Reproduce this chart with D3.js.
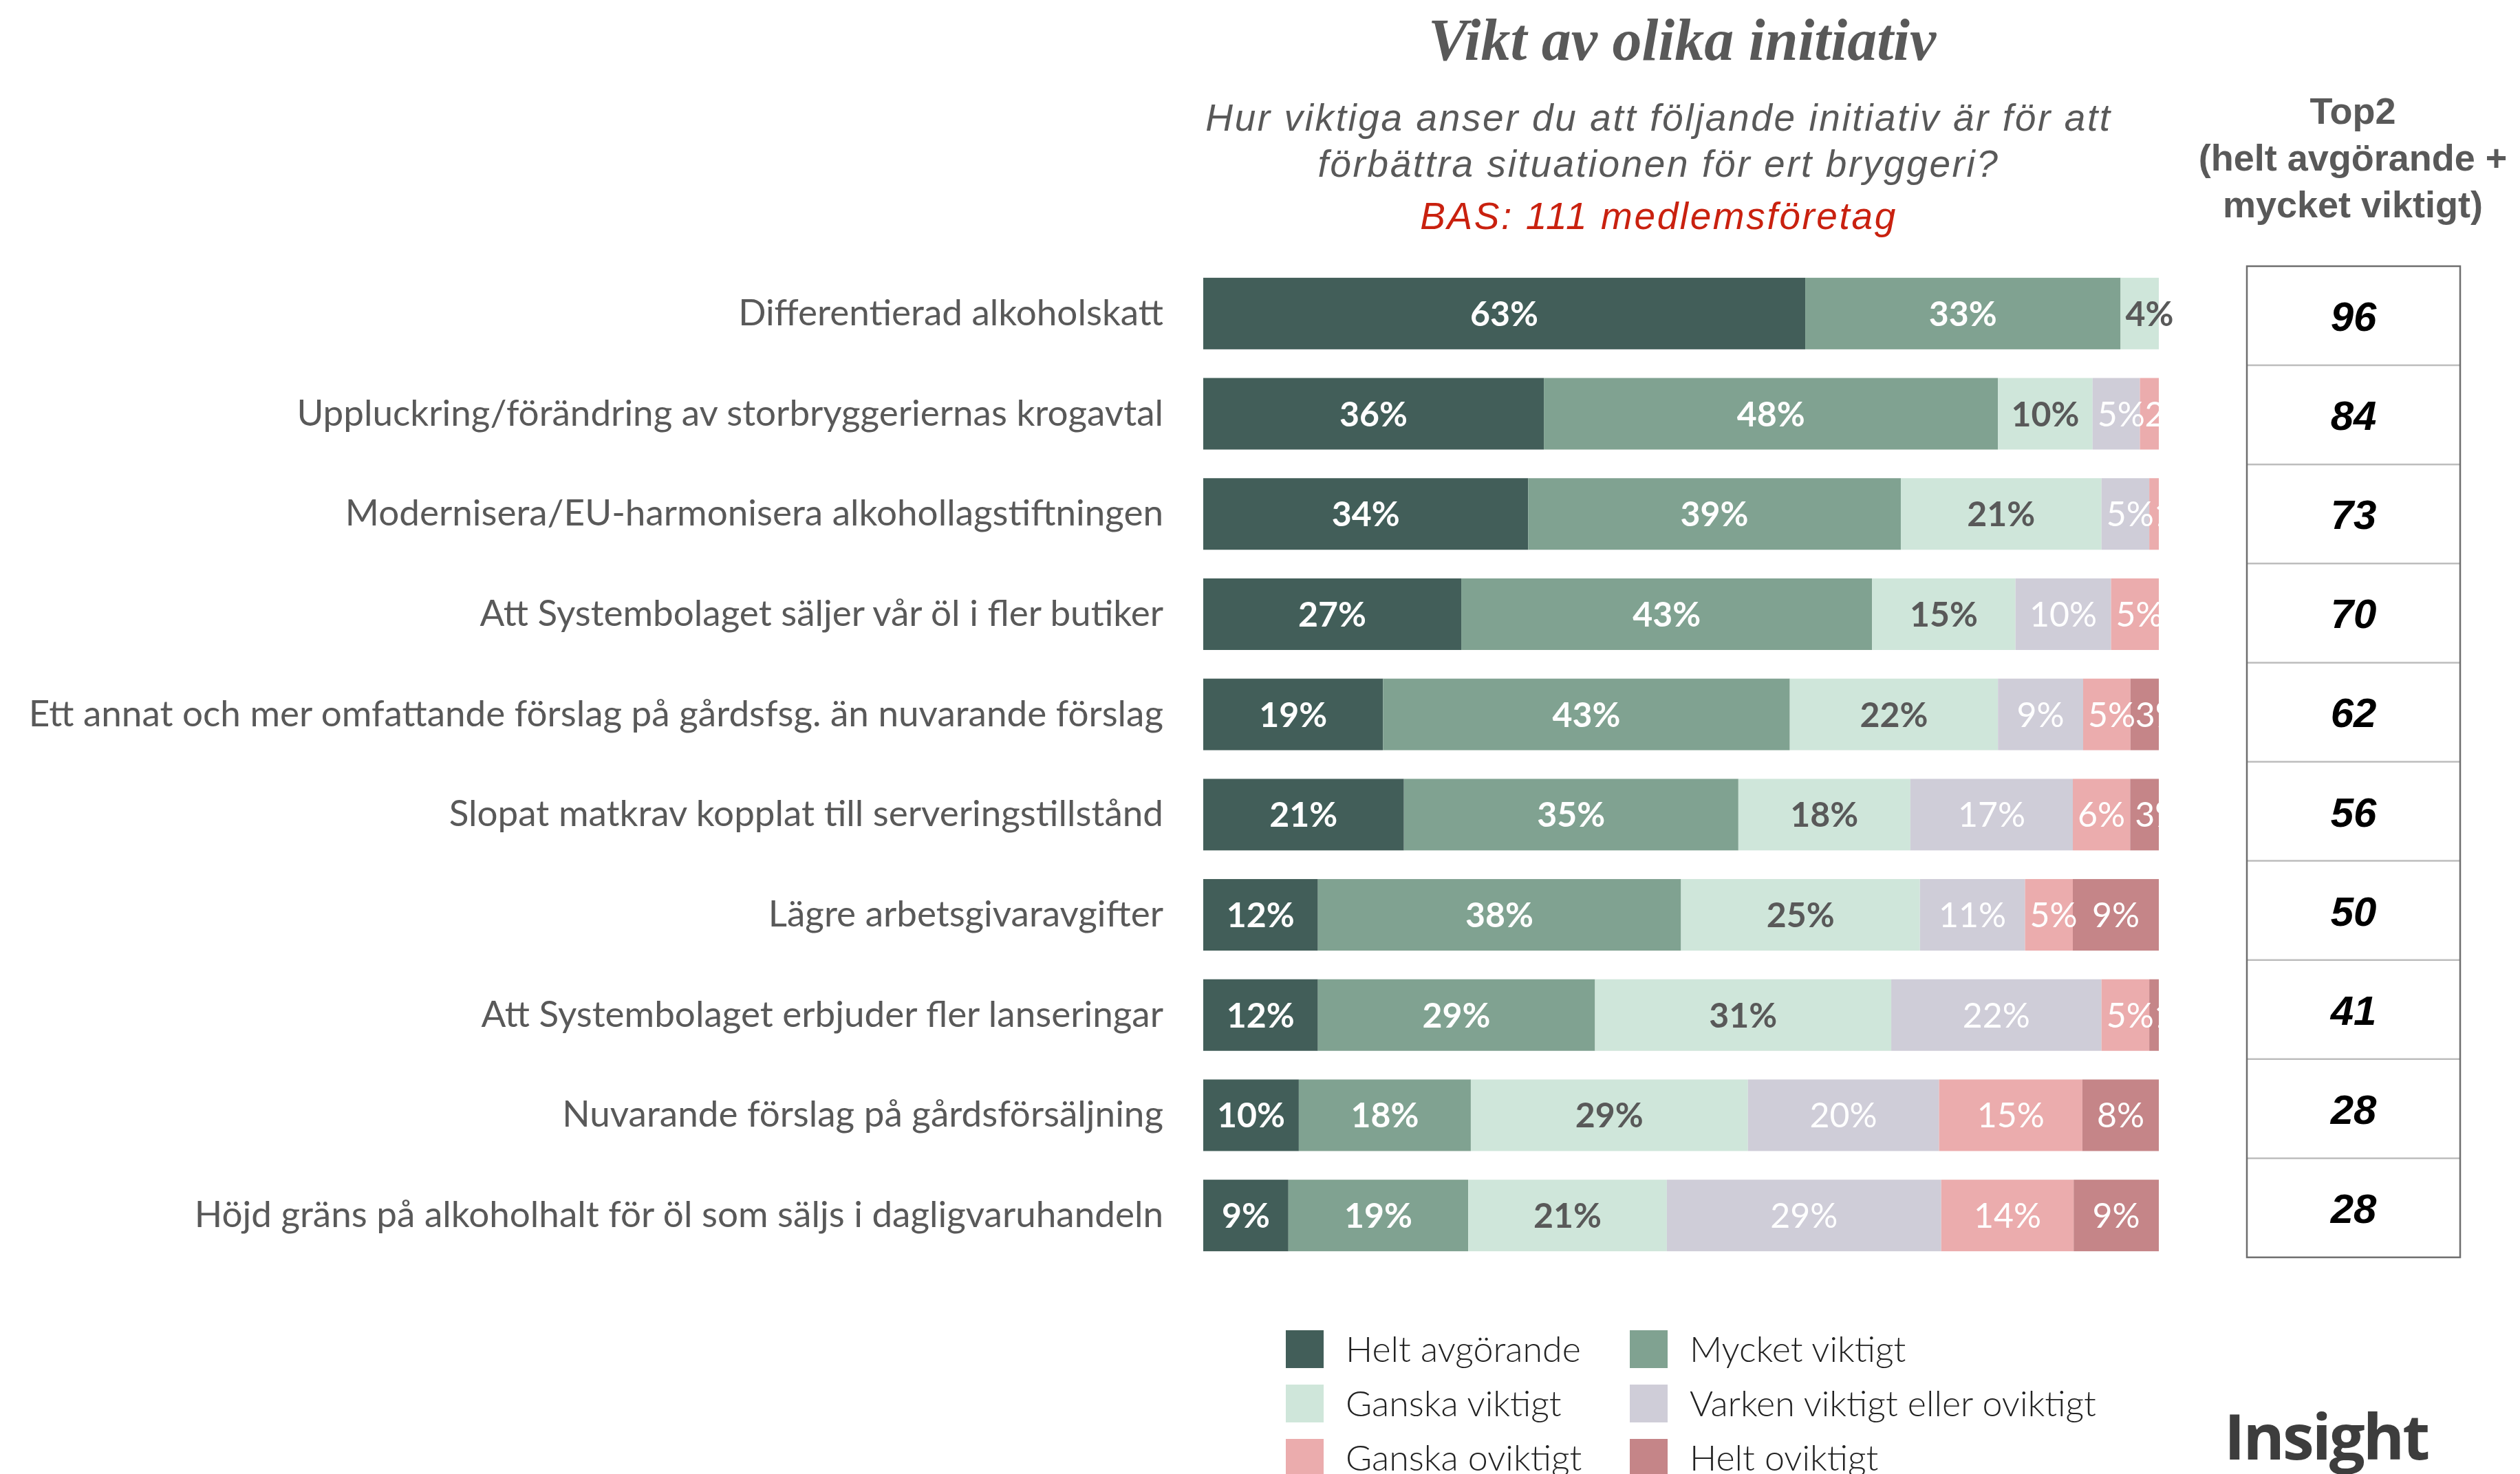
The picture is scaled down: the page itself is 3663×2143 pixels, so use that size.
<!DOCTYPE html>
<html>
<head>
<meta charset="utf-8">
<script src="https://cdn.jsdelivr.net/npm/d3@7"></script>
<style>
  html, body { margin: 0; padding: 0; background: #fff; }
  svg { display: block; }
</style>
</head>
<body>
<svg width="3663" height="2143"></svg>
<script>
// data
let categories = [
  'Differentierad alkoholskatt',
  'Uppluckring/förändring av storbryggeriernas krogavtal',
  'Modernisera/EU-harmonisera alkohollagstiftningen',
  'Att Systembolaget säljer vår öl i fler butiker',
  'Ett annat och mer omfattande förslag på gårdsfsg. än nuvarande förslag',
  'Slopat matkrav kopplat till serveringstillstånd',
  'Lägre arbetsgivaravgifter',
  'Att Systembolaget erbjuder fler lanseringar',
  'Nuvarande förslag på gårdsförsäljning',
  'Höjd gräns på alkoholhalt för öl som säljs i dagligvaruhandeln'
];
let seriesNames = ['Helt avgörande', 'Mycket viktigt', 'Ganska viktigt',
  'Varken viktigt eller oviktigt', 'Ganska oviktigt', 'Helt oviktigt'];

let heltAvgorande  = [63, 36, 34, 27, 19, 21, 12, 12, 10, 9];
let mycketViktigt  = [33, 48, 39, 43, 43, 35, 38, 29, 18, 19];
let ganskaViktigt  = [4, 10, 21, 15, 22, 18, 25, 31, 29, 21];
let varken         = [0, 5, 5, 10, 9, 17, 11, 22, 20, 29];
let ganskaOviktigt = [0, 2, 1, 5, 5, 6, 5, 5, 15, 14];
let heltOviktigt   = [0, 0, 0, 0, 3, 3, 9, 1, 8, 9];
let top2 = [96, 84, 73, 70, 62, 56, 50, 41, 28, 28];

let seriesValues = [heltAvgorande, mycketViktigt, ganskaViktigt, varken, ganskaOviktigt, heltOviktigt];

let colors = ['#425e59', '#80a291', '#cfe6da', '#cfcdd8', '#ebacad', '#c58588'];
let labelColors = ['#fff', '#fff', '#595959', '#fff', '#fff', '#fff'];
let labelWeights = [700, 700, 700, 400, 400, 400];

let svg = d3.select('svg');
let grey = '#595959';

// build stacked rows (each row normalised to its own total so bars end together)
let rows = categories.map((cat, i) => {
  let total = d3.sum(seriesValues, s => s[i]);
  let cum = 0;
  let segs = seriesValues.map((s, k) => {
    let seg = { cat: cat, k: k, value: s[i], x0: cum / total, x1: (cum + s[i]) / total };
    cum += s[i];
    return seg;
  });
  return { cat: cat, segs: segs };
});

let x = d3.scaleLinear().domain([0, 1]).range([1749, 3138]);
let y = d3.scaleBand()
  .domain(categories)
  .range([383, 1840])
  .paddingInner(0.286)
  .paddingOuter(0.143);

// titles
svg.append('text')
  .attr('x', 2445).attr('y', 87)
  .attr('text-anchor', 'middle')
  .style('font-family', '"Liberation Serif", serif')
  .style('font-style', 'italic').style('font-weight', 700)
  .style('font-size', '86px')
  .attr('fill', grey)
  .text('Vikt av olika initiativ');

let subLines = ['Hur viktiga anser du att följande initiativ är för att', 'förbättra situationen för ert bryggeri?'];
svg.selectAll('.sub')
  .data(subLines)
  .enter().append('text')
  .attr('class', 'sub')
  .attr('x', 2411)
  .attr('y', (d, i) => 190 + i * 67)
  .attr('text-anchor', 'middle')
  .style('font-family', '"Liberation Sans", Arial, sans-serif')
  .style('font-style', 'italic')
  .style('font-size', '55px')
  .style('letter-spacing', '2.6px')
  .attr('fill', grey)
  .text(d => d);

svg.append('text')
  .attr('x', 2411).attr('y', 333)
  .attr('text-anchor', 'middle')
  .style('font-family', '"Liberation Sans", Arial, sans-serif')
  .style('font-style', 'italic')
  .style('font-size', '55px')
  .style('letter-spacing', '2.6px')
  .attr('fill', '#c9210f')
  .text('BAS: 111 medlemsföretag');

// category labels
svg.selectAll('.cat')
  .data(categories)
  .enter().append('text')
  .attr('class', 'cat')
  .attr('x', 1691)
  .attr('y', d => y(d) + y.bandwidth() / 2 + 17)
  .attr('text-anchor', 'end')
  .style('font-family', 'Lato, sans-serif')
  .style('font-size', '53px')
  .attr('fill', grey)
  .text(d => d);

// bars
let defs = svg.append('defs');
let rowG = svg.selectAll('.row')
  .data(rows)
  .enter().append('g')
  .attr('class', 'row')
  .attr('transform', d => `translate(0,${y(d.cat)})`);

rowG.selectAll('rect')
  .data(d => d.segs.filter(s => s.value > 0))
  .enter().append('rect')
  .attr('x', d => x(d.x0))
  .attr('width', d => x(d.x1) - x(d.x0))
  .attr('y', 0)
  .attr('height', y.bandwidth())
  .attr('fill', d => colors[d.k]);

rowG.each(function (row, ri) {
  let g = d3.select(this);
  row.segs.filter(s => s.value > 0).forEach(s => {
    let x0 = x(s.x0), x1 = x(s.x1);
    let t = g.append('text')
      .attr('y', y.bandwidth() / 2 + 18)
      .style('font-family', 'Lato, sans-serif')
      .style('font-weight', labelWeights[s.k])
      .style('font-size', '50px')
      .attr('fill', labelColors[s.k])
      .text(s.value + '%');
    let w = t.node().getComputedTextLength();
    if (w > x1 - x0 - 4) {
      t.attr('x', x0 + 7);
    } else {
      t.attr('x', (x0 + x1) / 2).attr('text-anchor', 'middle');
    }
    if (s.value < 4) {
      let id = `clip-${ri}-${s.k}`;
      defs.append('clipPath').attr('id', id)
        .append('rect')
        .attr('x', x0).attr('y', 0)
        .attr('width', x1 - x0).attr('height', y.bandwidth());
      t.attr('clip-path', `url(#${id})`);
    }
  });
});

// Top2 header
let headLines = ['Top2', '(helt avgörande +', 'mycket viktigt)'];
svg.selectAll('.head')
  .data(headLines)
  .enter().append('text')
  .attr('class', 'head')
  .attr('x', 3420)
  .attr('y', (d, i) => 180 + i * 68)
  .attr('text-anchor', 'middle')
  .style('font-family', '"Liberation Sans", Arial, sans-serif')
  .style('font-weight', 700)
  .style('font-size', '54px')
  .attr('fill', grey)
  .text(d => d);

// Top2 table
let ty = d3.scaleBand().domain(categories).range([387, 1828]);
let tx0 = 3266, tx1 = 3576;
let table = svg.append('g');

table.selectAll('.sep')
  .data(categories.slice(1))
  .enter().append('line')
  .attr('x1', tx0).attr('x2', tx1)
  .attr('y1', d => ty(d)).attr('y2', d => ty(d))
  .attr('stroke', '#bdbdbd')
  .attr('stroke-width', 2.5);

table.append('rect')
  .attr('x', tx0).attr('y', 387)
  .attr('width', tx1 - tx0).attr('height', 1828 - 387)
  .attr('fill', 'none')
  .attr('stroke', '#6e6e6e')
  .attr('stroke-width', 2.5);

table.selectAll('.top2')
  .data(top2)
  .enter().append('text')
  .attr('class', 'top2')
  .attr('x', (tx0 + tx1) / 2)
  .attr('y', (d, i) => ty(categories[i]) + ty.bandwidth() / 2 + 22)
  .attr('text-anchor', 'middle')
  .style('font-family', '"Liberation Sans", Arial, sans-serif')
  .style('font-weight', 700).style('font-style', 'italic')
  .style('font-size', '60px')
  .attr('fill', '#000')
  .text(d => d);

// legend, two columns
let legend = svg.selectAll('.leg')
  .data(seriesNames)
  .enter().append('g')
  .attr('class', 'leg')
  .attr('transform', (d, i) => `translate(${1869 + (i % 2) * 500},${1934 + Math.floor(i / 2) * 79})`);

legend.append('rect')
  .attr('width', 55).attr('height', 55)
  .attr('fill', (d, i) => colors[i]);

legend.append('text')
  .attr('x', 87).attr('y', 46)
  .style('font-family', 'Lato, sans-serif')
  .style('font-weight', 300)
  .style('font-size', '52px')
  .attr('fill', '#222')
  .text(d => d);

// logo
svg.append('text')
  .attr('x', 3233).attr('y', 2122)
  .style('font-family', '"Open Sans", sans-serif')
  .style('font-weight', 700)
  .style('font-size', '92px')
  .style('letter-spacing', '-3px')
  .attr('fill', '#3d3d3d')
  .text('Insight');
</script>
</body>
</html>
